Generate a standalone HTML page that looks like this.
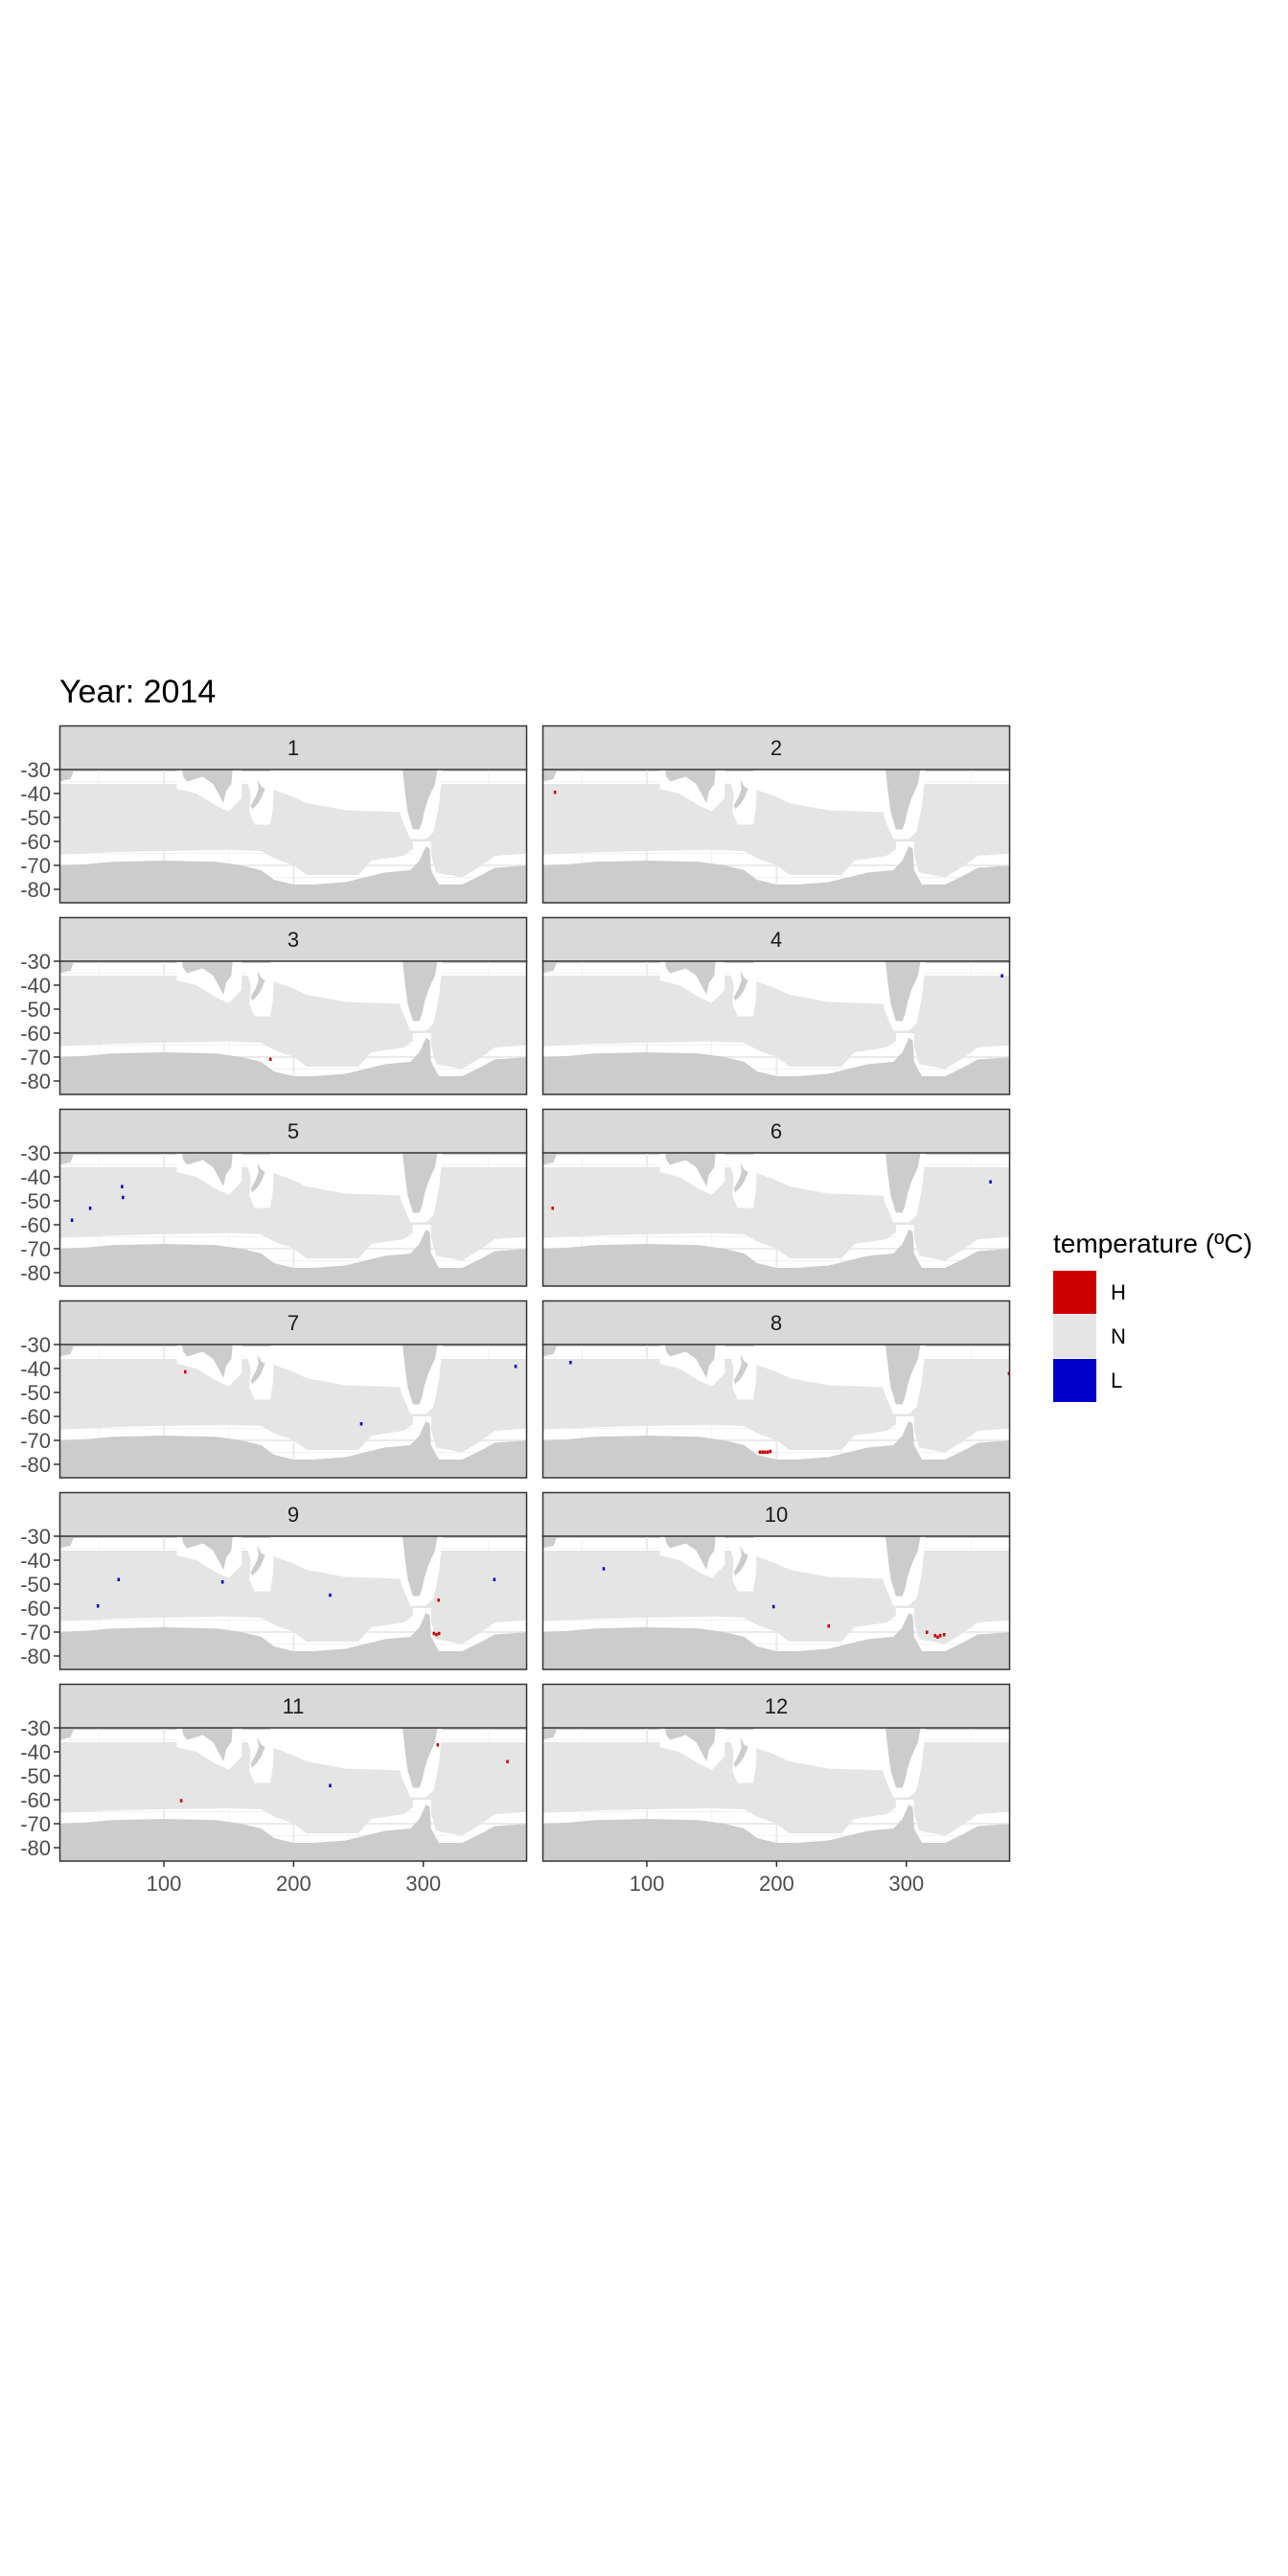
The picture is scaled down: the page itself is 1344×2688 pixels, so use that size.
<!DOCTYPE html>
<html><head><meta charset="utf-8"><style>
html,body{margin:0;padding:0;background:#fff;}
svg{display:block;font-family:"Liberation Sans",sans-serif;}
</style></head><body>
<svg id="chart" width="1344" height="2688" viewBox="0 0 1344 2688" xmlns="http://www.w3.org/2000/svg">
<rect width="1344" height="2688" fill="#fff"/>
<text x="62" y="733" font-size="34" fill="#000">Year: 2014</text>
<g id="panels"></g>
<g>
<text x="1099" y="1307" font-size="28" fill="#000">temperature (ºC)</text>
<rect x="1099" y="1326" width="45" height="45" fill="#cd0000"/>
<rect x="1099" y="1372" width="45" height="45" fill="#e5e5e5"/>
<rect x="1099" y="1418" width="45" height="45" fill="#0000cd"/>
<text x="1159" y="1356" font-size="22" fill="#000">H</text>
<text x="1159" y="1402" font-size="22" fill="#000">N</text>
<text x="1159" y="1448" font-size="22" fill="#000">L</text>
</g>
</svg>
<script>
const months = [1,2,3,4,5,6,7,8,9,10,11,12];
const yTicks = [-30,-40,-50,-60,-70,-80];
const xTicks = [100,200,300];
// anomaly cells: panel (month), lon, lat, class
const anomPanel = [2,3,4,5,5,5,5,6,6,7,7,7,8,8,8,8,8,8,8,9,9,9,9,9,9,9,9,9,10,10,10,10,10,10,10,10,11,11,11,11];
const anomLon   = [29,182,373.6,67.6,68.3,43,29,27.2,364.7,116.3,252,371,41,187,189,191,193,195,379,65,49,145,228,311.6,308,310,312,354.6,66.6,197.5,240,315.7,322,324,326,329,113.2,228,311,364.7];
const anomLat   = [-39.4,-70.8,-36,-44,-48.5,-53,-58,-53,-42,-41.3,-63,-39,-37.4,-74.8,-74.8,-74.8,-74.8,-74.5,-42,-48,-59,-49,-54.5,-56.6,-70.5,-71,-70.5,-48,-43.5,-59.3,-67.4,-70,-71.4,-72,-71.4,-71,-60.3,-54,-37,-44];
const anomClass = ['H','H','L','L','L','L','L','H','L','H','L','L','L','H','H','H','H','H','H','L','L','L','L','H','H','H','H','L','L','L','H','H','H','H','H','H','H','L','H','H'];

const NS='http://www.w3.org/2000/svg';
const colX=[62,566], PW=488, STRIP=46, PH=139, rowTop=[757,957,1157,1357,1557,1757];
const LON0=19.5, LON1=380, LAT0=-30, LAT1=-85.6;
function mk(tag,attrs,parent){const e=document.createElementNS(NS,tag);for(const k in attrs)e.setAttribute(k,attrs[k]);parent.appendChild(e);return e;}

const ocean=[[19,-36],[381,-36],[381,-65],[355,-66],[345,-70],[330,-75],[310,-73],[305,-64],[298,-60],[295,-62],[285,-66],[260,-68],[250,-74],[210,-74],[200,-70],[185,-67],[175,-64],[150,-63.5],[100,-64],[60,-64.5],[19,-65.5]];
const whites=[
 [[182,-30],[290,-30],[290,-48],[270,-47.5],[240,-47],[225,-45.5],[210,-44],[198,-41],[185,-38.5]],
 [[110,-30],[160,-30],[160,-42],[150,-47.5],[140,-45],[125,-40],[110,-38]],
 [[163,-33],[185,-33],[184,-46],[182,-53],[170,-53],[166,-48],[167,-40]],
 [[278,-30],[315,-30],[312,-45],[308,-56],[302,-59],[290,-59],[283,-50],[279,-40]],
 [[292,-60],[306,-60],[306,-68],[292,-66]]
];
const lands=[
 [[19,-30],[31,-30],[28,-34],[19,-35]],
 [[114,-30],[153,-30],[152,-36],[148,-39],[146,-44],[143,-41],[138,-36],[130,-33],[118,-35],[115,-33]],
 [[172,-34],[175,-37],[178,-38],[175,-42],[172,-44.5],[168,-46.5],[167,-45],[171,-41],[173,-38]],
 [[284,-30],[311,-30],[309,-36],[304,-42],[301,-47],[299,-52],[297,-55],[292,-55],[288,-48],[286,-40]],
 [[19,-70],[40,-69.5],[60,-68.5],[100,-68],[140,-68.5],[160,-70],[175,-72],[185,-76],[200,-78],[215,-78],[240,-77],[255,-75],[270,-73],[290,-72],[297,-68],[302,-62],[305,-63],[306,-72],[312,-78],[330,-78],[345,-74],[355,-71],[381,-70],[381,-86],[19,-86]]
];

const root=document.getElementById('panels');
months.forEach((m,i)=>{
  const c=i%2, r=Math.floor(i/2);
  const x0=colX[c], st=rowTop[r], py0=st+STRIP;
  const sx=v=>x0+(v-LON0)/(LON1-LON0)*PW;
  const sy=v=>py0+(v-LAT0)/(LAT1-LAT0)*PH;
  const pts=a=>a.map(p=>sx(p[0]).toFixed(1)+','+sy(p[1]).toFixed(1)).join(' ');
  const g=mk('g',{},root);
  
  
  const clipId='clip'+m;
  const cp=mk('clipPath',{id:clipId},g); mk('rect',{x:x0,y:py0,width:PW,height:PH},cp);
  const strip=mk('rect',{x:x0+0.5,y:st+0.5,width:PW-1,height:STRIP,fill:'#d9d9d9',stroke:'#333','stroke-width':1.5},g);
  
  
  const stxt=mk('text',{x:x0+PW/2,y:st+31,'font-size':22,'text-anchor':'middle',fill:'#1a1a1a'},g);
  stxt.textContent=m;
  
  
  const pg=mk('g',{'clip-path':'url(#'+clipId+')'},g);
  [50,150,250,350].forEach(v=>mk('line',{x1:sx(v),x2:sx(v),y1:py0,y2:py0+PH,stroke:'#f2f2f2','stroke-width':1},pg));
  [-35,-45,-55,-65,-75,-85].forEach(v=>mk('line',{x1:x0,x2:x0+PW,y1:sy(v),y2:sy(v),stroke:'#f2f2f2','stroke-width':1},pg));
  xTicks.forEach(v=>mk('line',{x1:sx(v),x2:sx(v),y1:py0,y2:py0+PH,stroke:'#ebebeb','stroke-width':2},pg));
  yTicks.forEach(v=>mk('line',{x1:x0,x2:x0+PW,y1:sy(v),y2:sy(v),stroke:'#ebebeb','stroke-width':2},pg));
  const oc=mk('polygon',{points:pts(ocean),fill:'#e5e5e5'},pg);
  
  
  whites.forEach(w=>mk('polygon',{points:pts(w),fill:'#fff'},pg));
  lands.forEach(l=>{const e=mk('polygon',{points:pts(l),fill:'#cccccc'},pg);
    
    });
  anomPanel.forEach((p,k)=>{
    if(p!==m) return;
    const e=mk('rect',{x:sx(anomLon[k])-1,y:sy(anomLat[k])-1.5,width:2.5,height:3.5,fill:anomClass[k]==='H'?'#cd0000':'#0000cd'},pg);
    
    
  });
  const fr=mk('rect',{x:x0+0.5,y:py0,width:PW-1,height:PH,fill:'none',stroke:'#333','stroke-width':1.5},g);
  
  
  if(c===0){
    yTicks.forEach(v=>{
      mk('line',{x1:x0-6,x2:x0,y1:sy(v),y2:sy(v),stroke:'#333','stroke-width':1.5},g);
      const t=mk('text',{x:x0-9,y:sy(v)+8,'font-size':22,'text-anchor':'end',fill:'#4d4d4d'},g);
      t.textContent=v;
      
      
    });
  }
  if(r===5){
    xTicks.forEach(v=>{
      mk('line',{x1:sx(v),x2:sx(v),y1:py0+PH,y2:py0+PH+6,stroke:'#333','stroke-width':1.5},g);
      const t=mk('text',{x:sx(v),y:py0+PH+31,'font-size':22,'text-anchor':'middle',fill:'#4d4d4d'},g);
      t.textContent=v;
      
      
    });
  }
});
</script>
</body></html>
